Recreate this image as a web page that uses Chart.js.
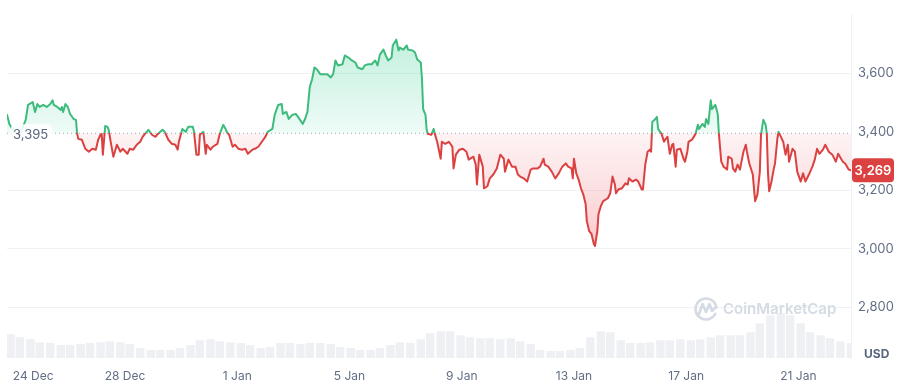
<!DOCTYPE html>
<html><head><meta charset="utf-8">
<script src="https://cdn.jsdelivr.net/npm/chart.js@4.4.1/dist/chart.umd.min.js"></script>
<style>html,body{margin:0;padding:0;background:#fff;}canvas{display:block;}</style>
</head><body>
<canvas id="c" width="901" height="384"></canvas>
<script>
// ---- data (hours since 24 Dec 00:00) ----
const priceHours = [
-5,-4,-3,1,6,11,13,17,18,19,
21,23,26,29,32,34,35,38,41,42,
43,45,47,49,52,54,55,56,59,62,
65,68,71,73,75,76,77,79,81,82,
84,86,89,92,94,98,100,103,106,109,
111,113,116,119,122,124,128,130,133,136,
139,141,142,145,148,150,154,155,157,159,
160,163,165,166,169,171,175,177,180,182,
183,185,188,190,193,196,199,201,205,207,
210,213,216,218,222,224,227,230,231,234,
236,239,242,244,248,250,252,254,256,258,
260,263,266,269,272,274,276,278,282,284,
287,290,293,295,299,301,304,307,310,312,
314,317,319,321,324,325,328,330,331,334,
337,338,342,344,346,349,350,351,353,354,
355,358,360,361,363,366,367,370,373,376,
377,379,382,385,388,390,394,396,397,399,
402,403,406,408,411,414,417,420,421,424,
427,430,432,434,437,440,443,445,449,451,
454,455,458,461,464,467,470,473,475,478,
479,480,482,484,486,488,490,491,493,495,
497,498,500,501,503,505,509,511,513,515,
516,518,521,524,526,527,530,533,535,538,
539,541,543,545,546,547,549,551,552,555,
557,558,560,562,564,565,567,568,571,574,
575,577,578,581,584,586,587,590,592,593,
595,597,598,601,603,604,606,608,611,612,
615,616,618,620,622,625,627,628,630,633,
634,635,637,639,640,642,644,645,646,647,
649,651,652,654,655,657,659,661,663,664,
667,669,671,674,676,678,681,684,686,688,
690,693,695,698,701,704,706,710,712,715,
717];
const prices = [
3458,3444,3427,3400,3390,3441,3492,3502,3485,3468,
3495,3485,3492,3485,3495,3508,3492,3485,3475,3485,
3468,3495,3485,3461,3444,3441,3393,3376,3373,3342,
3332,3342,3339,3373,3390,3393,3322,3420,3417,3407,
3359,3315,3356,3332,3342,3325,3342,3339,3356,3366,
3383,3393,3407,3390,3383,3393,3407,3400,3373,3359,
3356,3339,3366,3410,3400,3417,3417,3400,3322,3322,
3390,3400,3325,3356,3339,3349,3359,3393,3424,3410,
3400,3390,3349,3356,3342,3339,3342,3325,3339,3342,
3349,3366,3383,3400,3410,3458,3492,3495,3461,3468,
3444,3458,3461,3451,3427,3444,3468,3553,3580,3620,
3614,3597,3597,3597,3586,3597,3644,3627,3631,3661,
3654,3644,3637,3620,3614,3627,3631,3631,3644,3627,
3664,3681,3661,3644,3654,3695,3715,3678,3688,3681,
3695,3681,3678,3671,3647,3637,3580,3478,3458,3407,
3393,3390,3410,3393,3366,3308,3366,3359,3366,3349,
3275,3322,3339,3342,3332,3305,3315,3288,3220,3322,
3281,3207,3214,3241,3254,3275,3322,3308,3264,3305,
3281,3281,3254,3247,3241,3230,3271,3275,3275,3281,
3308,3288,3281,3264,3241,3258,3281,3292,3281,3275,
3241,3308,3258,3237,3207,3186,3153,3095,3061,3051,
3017,3010,3061,3119,3146,3163,3173,3190,3247,3220,
3190,3203,3207,3224,3220,3241,3230,3237,3230,3203,
3203,3288,3332,3339,3332,3434,3441,3451,3410,3393,
3366,3373,3383,3325,3356,3359,3281,3339,3342,3305,
3298,3332,3366,3373,3393,3424,3410,3427,3417,3444,
3427,3508,3478,3492,3461,3393,3298,3281,3271,3315,
3308,3275,3264,3288,3271,3332,3356,3332,3292,3254,
3207,3163,3186,3264,3390,3441,3424,3393,3258,3197,
3230,3275,3292,3376,3400,3383,3366,3322,3356,3298,
3342,3332,3264,3230,3258,3230,3254,3281,3305,3342,
3325,3339,3356,3332,3322,3298,3325,3298,3292,3271,
3269];
const volumeHours = [
-2,6,15,23,32,41,49,58,66,75,
83,92,100,109,118,126,135,143,152,160,
169,177,186,195,203,212,220,229,237,246,
254,263,272,280,289,297,306,314,323,331,
340,349,357,366,374,383,391,400,408,417,
426,434,443,451,460,468,477,485,494,503,
511,520,528,537,545,554,562,571,580,588,
597,605,614,622,631,639,648,657,665,674,
682,691,699,708,717];
const volumes = [
24,21,19,16,15,13,13,14,15,16,
17,16,14,10,8,8,8,10,13,18,
19,17,16,15,13,10,11,15,15,14,
15,15,14,11,10,8,8,10,13,16,
15,19,25,27,27,23,21,20,20,19,
20,17,14,8,7,7,8,10,21,27,
26,18,15,15,16,18,18,19,18,19,
21,23,23,23,26,35,43,45,43,35,
26,23,20,17,15];
const baseline = 3395;
const priceTicks = [2800, 3000, 3200, 3400, 3600];
const dateTickHours = [0, 96, 192, 288, 384, 480, 576, 672];
const dateLabels = ['24 Dec','28 Dec','1 Jan','5 Jan','9 Jan','13 Jan','17 Jan','21 Jan'];
const currency = 'USD';
const brand = 'CoinMarketCap';

// ---- styles ----
const GREEN = '#3dbb7c', RED = '#db4141';
const TEXT = '#616e85', GRID = '#eff2f5';
Chart.defaults.font.family = 'Inter, "Noto Sans", sans-serif';

let gc = {};
function grads(chart) {
  const a = chart.chartArea;
  if (!a || !chart.scales.y) return null;
  const key = a.top + '_' + a.bottom;
  if (gc.key === key) return gc;
  const ctx = chart.ctx, ys = chart.scales.y;
  const by = ys.getPixelForValue(baseline);
  const f = Math.min(Math.max((by - a.top) / (a.bottom - a.top), 0), 1);
  const line = ctx.createLinearGradient(0, a.top, 0, a.bottom);
  line.addColorStop(0, GREEN); line.addColorStop(f, GREEN);
  line.addColorStop(f, RED); line.addColorStop(1, RED);
  const topY = ys.getPixelForValue(Math.max(...prices));
  const up = ctx.createLinearGradient(0, topY, 0, by);
  up.addColorStop(0, 'rgba(22,199,132,0.26)');
  up.addColorStop(1, 'rgba(22,199,132,0.07)');
  const botY = ys.getPixelForValue(Math.min(...prices));
  const dn = ctx.createLinearGradient(0, by, 0, botY);
  dn.addColorStop(0, 'rgba(234,57,67,0.06)');
  dn.addColorStop(1, 'rgba(234,57,67,0.26)');
  gc = {key, line, up, dn};
  return gc;
}

function rrect(ctx, x, y, w, h, r) {
  ctx.beginPath();
  ctx.moveTo(x + r, y);
  ctx.lineTo(x + w - r, y); ctx.quadraticCurveTo(x + w, y, x + w, y + r);
  ctx.lineTo(x + w, y + h - r); ctx.quadraticCurveTo(x + w, y + h, x + w - r, y + h);
  ctx.lineTo(x + r, y + h); ctx.quadraticCurveTo(x, y + h, x, y + h - r);
  ctx.lineTo(x, y + r); ctx.quadraticCurveTo(x, y, x + r, y);
  ctx.closePath();
}

const overlay = {
  id: 'overlay',
  afterDatasetsDraw(chart) {
    const {ctx, chartArea: a, scales: {y}} = chart;
    ctx.save();
    // watermark
    ctx.fillStyle = '#d5dbe4';
    ctx.strokeStyle = '#d5dbe4';
    ctx.font = '600 15px Inter';
    ctx.textAlign = 'left'; ctx.textBaseline = 'middle';
    ctx.fillText(brand, 723, 309);
    ctx.lineWidth = 2.6; ctx.lineCap = 'round'; ctx.lineJoin = 'round';
    ctx.beginPath(); ctx.arc(706, 309, 10.5, 0.15 * Math.PI, 1.95 * Math.PI, false); ctx.stroke();
    ctx.beginPath();
    ctx.moveTo(699, 314); ctx.lineTo(702.5, 304); ctx.lineTo(706, 312); ctx.lineTo(709.5, 304); ctx.lineTo(712, 311); ctx.lineTo(716, 307);
    ctx.stroke();

    // baseline value label
    const by = y.getPixelForValue(baseline);
    const bt = baseline.toLocaleString('en-US');
    ctx.font = '13px Inter';
    const bw = ctx.measureText(bt).width;
    ctx.fillStyle = 'rgba(255,255,255,0.88)';
    rrect(ctx, a.left + 4, by - 9, bw + 6, 18, 4); ctx.fill();
    ctx.fillStyle = '#58667e';
    ctx.fillText(bt, a.left + 6, by + 1.5);

    // last price badge
    const last = prices[prices.length - 1];
    const py = y.getPixelForValue(last);
    ctx.fillStyle = RED;
    rrect(ctx, a.right + 1, py - 12, 42, 24, 4); ctx.fill();
    ctx.fillStyle = '#ffffff';
    ctx.font = '600 13px Inter';
    ctx.textAlign = 'center';
    ctx.fillText(last.toLocaleString('en-US'), a.right + 22, py + 0.5);

    // currency
    ctx.fillStyle = '#58667e';
    ctx.font = '700 12px Inter';
    ctx.textAlign = 'left';
    ctx.fillText(currency, a.right + 13, 354);
    ctx.restore();
  }
};

new Chart(document.getElementById('c'), {
  data: {
    datasets: [
      {
        type: 'line', label: 'Price', yAxisID: 'y', order: 0,
        data: priceHours.map((h, i) => ({x: h, y: prices[i]})),
        borderColor: (c) => { const g = grads(c.chart); return g ? g.line : RED; },
        borderWidth: 2, pointRadius: 0, tension: 0,
        borderJoinStyle: 'round', borderCapStyle: 'round',
        fill: (c) => { const g = grads(c.chart); return {value: baseline, above: g ? g.up : 'rgba(22,199,132,0.15)', below: g ? g.dn : 'rgba(234,57,67,0.12)'}; }
      },
      {
        type: 'line', label: 'Open', yAxisID: 'y', order: 1,
        data: [{x: priceHours[0], y: baseline}, {x: priceHours[priceHours.length - 1], y: baseline}],
        borderColor: '#a3acba', borderWidth: 1, borderDash: [1, 3], pointRadius: 0, fill: false
      },
      {
        type: 'bar', label: 'Volume', yAxisID: 'y2', order: 2,
        data: volumeHours.map((h, i) => ({x: h, y: volumes[i]})),
        backgroundColor: '#eef0f4', barPercentage: 1, categoryPercentage: 0.9
      }
    ]
  },
  options: {
    responsive: false, animation: false, devicePixelRatio: 1,
    layout: {padding: {top: 12, left: 7, right: 0, bottom: 0}},
    plugins: {legend: {display: false}, tooltip: {enabled: false}},
    scales: {
      x: {
        type: 'linear', offset: false, min: priceHours[0], max: priceHours[priceHours.length - 1],
        afterBuildTicks: (s) => { s.ticks = dateTickHours.map(v => ({value: v})).concat([{value: s.max}]); },
        afterFit: (s) => { s.height = 26; },
        grid: {display: false}, border: {display: false},
        ticks: {
          align: 'inner', autoSkip: false, maxRotation: 0, padding: 3,
          color: TEXT, font: {size: 12},
          callback: (v) => { const i = dateTickHours.indexOf(v); return i >= 0 ? dateLabels[i] : ''; }
        }
      },
      y: {
        position: 'right', min: 2627, max: 3800,
        afterBuildTicks: (s) => { s.ticks = priceTicks.map(v => ({value: v})); },
        afterFit: (s) => { s.width = 50; },
        grid: {drawTicks: false, color: (c) => (c.tick && c.tick.value === 3400) ? 'rgba(0,0,0,0)' : GRID},
        border: {display: true, color: GRID},
        ticks: {padding: 7, color: TEXT, font: {size: 13}, callback: (v) => v.toLocaleString('en-US')}
      },
      y2: {display: false, min: 0, max: 346}
    }
  },
  plugins: [overlay]
});
</script>
</body></html>
